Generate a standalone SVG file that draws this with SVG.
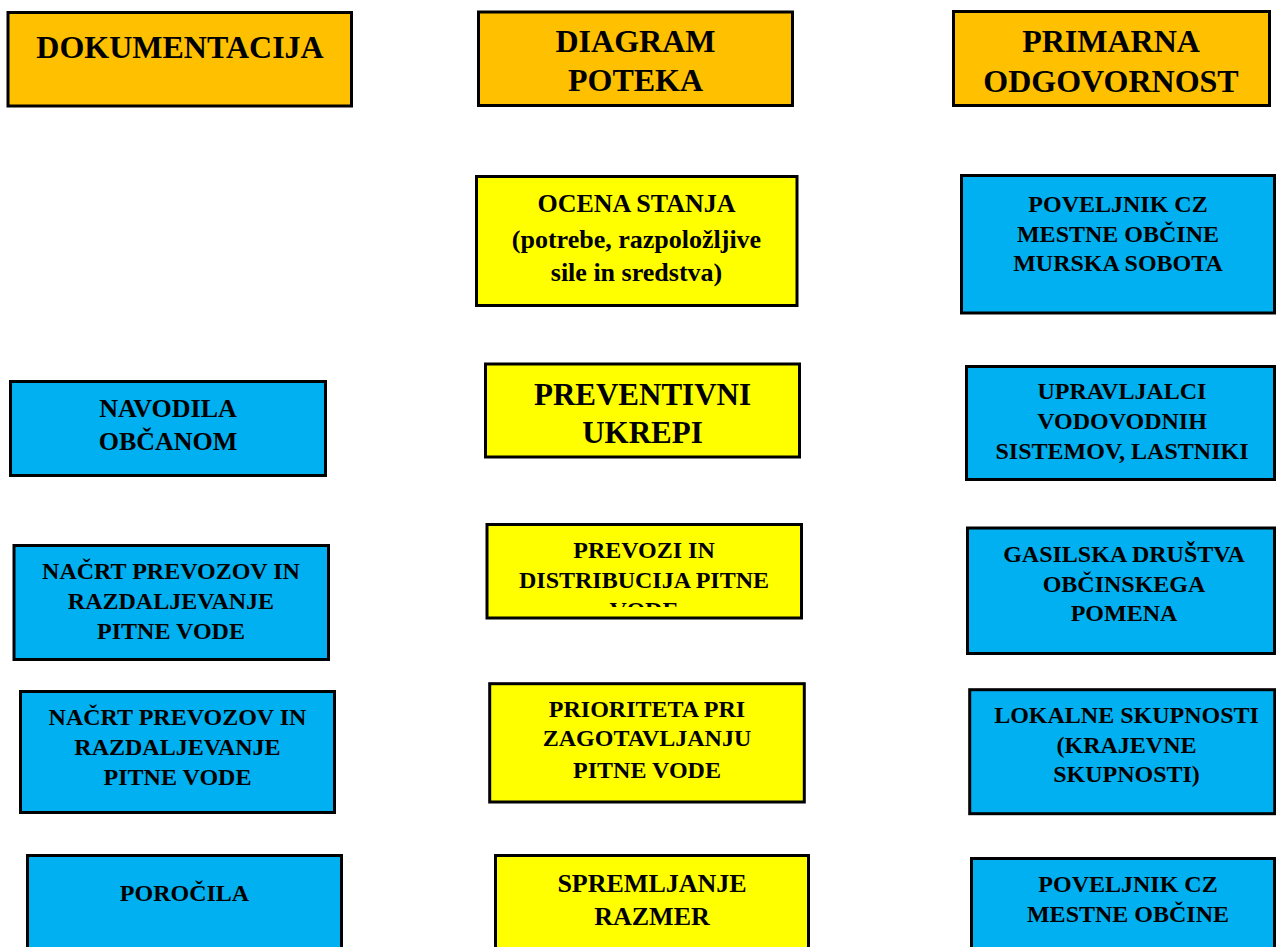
<svg xmlns="http://www.w3.org/2000/svg" width="1276" height="947" viewBox="0 0 1276 947">
<style>
.box{stroke:#000;stroke-width:3}
.hdr{fill:#FFC000}
.yel{fill:#FFFF00}
.blu{fill:#00B0F0}
text{font-family:"Liberation Serif","Times New Roman",serif;font-weight:bold;fill:#000;text-anchor:middle}
.h{font-size:32px}
.t{font-size:24px}
.t26{font-size:26px}
.t31{font-size:31px}
</style>
<defs>
<clipPath id="clipPrevozi"><rect x="487" y="524" width="315" height="83"/></clipPath>
</defs>
<rect width="1276" height="947" fill="#fff"/>
<g id="connectors"/>
<g id="hdr-dokumentacija">
<rect class="box hdr" x="8" y="12.5" width="343.5" height="93.5"/>
<text class="h" x="180" y="58">DOKUMENTACIJA</text>
</g>
<g id="hdr-diagram">
<rect class="box hdr" x="478.5" y="12" width="314" height="93.5"/>
<text class="h" x="635.5" y="52">DIAGRAM</text>
<text class="h" x="635.5" y="91">POTEKA</text>
</g>
<g id="hdr-primarna">
<rect class="box hdr" x="953.5" y="11.5" width="316" height="94"/>
<text class="h" x="1111" y="52">PRIMARNA</text>
<text class="h" x="1111" y="91.5">ODGOVORNOST</text>
</g>
<g id="ocena">
<rect class="box yel" x="476.5" y="176.5" width="320.5" height="129"/>
<text class="t26" x="636.5" y="212">OCENA STANJA</text>
<text class="t26" x="636.5" y="247.5">(potrebe, razpoložljive</text>
<text class="t26" x="636.5" y="281">sile in sredstva)</text>
</g>
<g id="preventivni">
<rect class="box yel" x="485.5" y="364" width="314" height="93"/>
<text class="t31" x="642.5" y="405">PREVENTIVNI</text>
<text class="t31" x="642.5" y="443">UKREPI</text>
</g>
<g id="prevozi">
<rect class="box yel" x="487" y="524.5" width="314.5" height="93.5"/>
<g clip-path="url(#clipPrevozi)">
<text class="t" x="644" y="558">PREVOZI IN</text>
<text class="t" x="644" y="588">DISTRIBUCIJA PITNE</text>
<text class="t" x="644" y="618">VODE</text>
</g>
</g>
<g id="prioriteta">
<rect class="box yel" x="489.7" y="683.7" width="314.6" height="118.3"/>
<text class="t" x="647" y="716.5">PRIORITETA PRI</text>
<text class="t" x="647" y="746">ZAGOTAVLJANJU</text>
<text class="t" x="647" y="778">PITNE VODE</text>
</g>
<g id="spremljanje">
<rect class="box yel" x="495.5" y="855.5" width="313" height="100"/>
<text class="t26" x="652" y="891.5">SPREMLJANJE</text>
<text class="t26" x="652" y="925">RAZMER</text>
</g>
<g id="poveljnik-ms">
<rect class="box blu" x="961.5" y="175.5" width="313" height="137.5"/>
<text class="t" x="1118" y="211.5">POVELJNIK CZ</text>
<text class="t" x="1118" y="241.5">MESTNE OBČINE</text>
<text class="t" x="1118" y="271">MURSKA SOBOTA</text>
</g>
<g id="upravljalci">
<rect class="box blu" x="966.5" y="366.5" width="308" height="113"/>
<text class="t" x="1122" y="399">UPRAVLJALCI</text>
<text class="t" x="1122" y="429">VODOVODNIH</text>
<text class="t" x="1122" y="458.5">SISTEMOV, LASTNIKI</text>
</g>
<g id="gasilska">
<rect class="box blu" x="967.5" y="528" width="307" height="125.5"/>
<text class="t" x="1124" y="561.5">GASILSKA DRUŠTVA</text>
<text class="t" x="1124" y="591.5">OBČINSKEGA</text>
<text class="t" x="1124" y="621">POMENA</text>
</g>
<g id="lokalne">
<rect class="box blu" x="969.7" y="689.7" width="305" height="124"/>
<text class="t" x="1126.5" y="723">LOKALNE SKUPNOSTI</text>
<text class="t" x="1126.5" y="753">(KRAJEVNE</text>
<text class="t" x="1126.5" y="781.5">SKUPNOSTI)</text>
</g>
<g id="poveljnik-mo">
<rect class="box blu" x="971.5" y="858.5" width="303" height="100"/>
<text class="t" x="1128" y="891.5">POVELJNIK CZ</text>
<text class="t" x="1128" y="921.5">MESTNE OBČINE</text>
</g>
<g id="navodila">
<rect class="box blu" x="10.5" y="381.5" width="315" height="94"/>
<text class="t26" x="168" y="416.5">NAVODILA</text>
<text class="t26" x="168" y="450">OBČANOM</text>
</g>
<g id="nacrt1">
<rect class="box blu" x="14" y="545.5" width="314.5" height="114"/>
<text class="t" x="171" y="579">NAČRT PREVOZOV IN</text>
<text class="t" x="171" y="609">RAZDALJEVANJE</text>
<text class="t" x="171" y="639">PITNE VODE</text>
</g>
<g id="nacrt2">
<rect class="box blu" x="20.5" y="691.5" width="314" height="121"/>
<text class="t" x="177.5" y="725">NAČRT PREVOZOV IN</text>
<text class="t" x="177.5" y="755">RAZDALJEVANJE</text>
<text class="t" x="177.5" y="785">PITNE VODE</text>
</g>
<g id="porocila">
<rect class="box blu" x="27.5" y="855.5" width="314" height="100"/>
<text class="t" x="184.5" y="900.5">POROČILA</text>
</g>
</svg>
